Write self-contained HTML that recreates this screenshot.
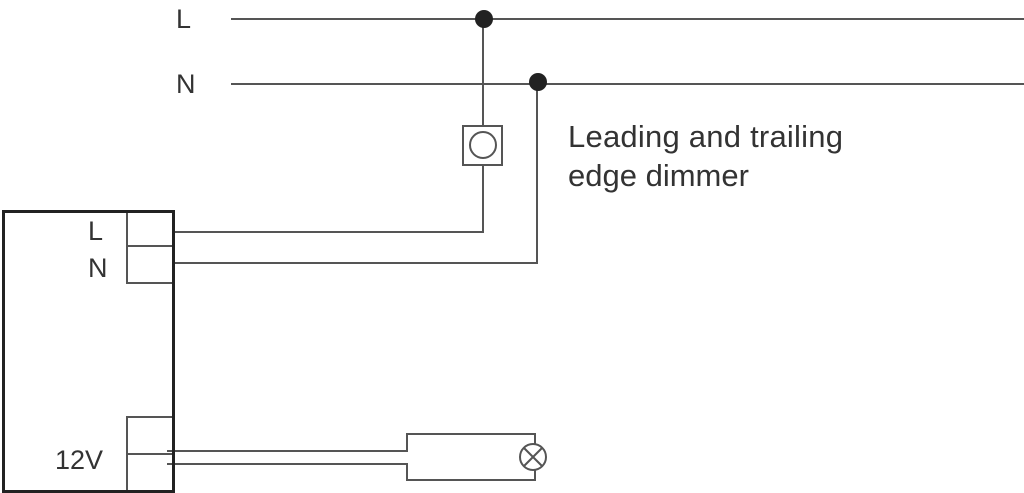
<!DOCTYPE html>
<html><head><style>body{margin:0;background:#fff}</style></head><body>
<svg width="1024" height="493" xmlns="http://www.w3.org/2000/svg" style="display:block">
<g fill="none" stroke="#555" stroke-width="2">
<line x1="231" y1="19" x2="1024" y2="19"/>
<line x1="231" y1="84" x2="1024" y2="84"/>
<polyline points="483,19 483,126"/>
<rect x="463" y="126" width="39" height="39"/>
<circle cx="483" cy="145" r="13"/>
<polyline points="483,165 483,232 174,232"/>
<polyline points="537,82 537,263 174,263"/>
<rect x="127" y="211" width="46" height="35"/>
<rect x="127" y="246" width="46" height="37"/>
<rect x="127" y="417" width="46" height="74"/>
<line x1="127" y1="454" x2="173" y2="454"/>
<polyline points="167,451 407,451 407,434 535,434 535,444"/>
<polyline points="167,464 407,464 407,480 535,480 535,470"/>
<circle cx="533" cy="457" r="13"/>
<line x1="524" y1="448" x2="542" y2="466"/>
<line x1="542" y1="448" x2="524" y2="466"/>
</g>
<rect x="3.5" y="211.5" width="170" height="280" fill="none" stroke="#222" stroke-width="3"/>
<circle cx="484" cy="19" r="9" fill="#222"/>
<circle cx="538" cy="82" r="9" fill="#222"/>
<g font-family="Liberation Sans, sans-serif" font-size="27" fill="#333">
<text x="176" y="28">L</text>
<text x="176" y="93">N</text>
<text x="88" y="240">L</text>
<text x="88" y="277">N</text>
<text x="55" y="469">12V</text>
</g>
<g font-family="Liberation Sans, sans-serif" font-size="31" fill="#333">
<text x="568" y="147" textLength="275">Leading and trailing</text>
<text x="568" y="186">edge dimmer</text>
</g>
</svg>
</body></html>
